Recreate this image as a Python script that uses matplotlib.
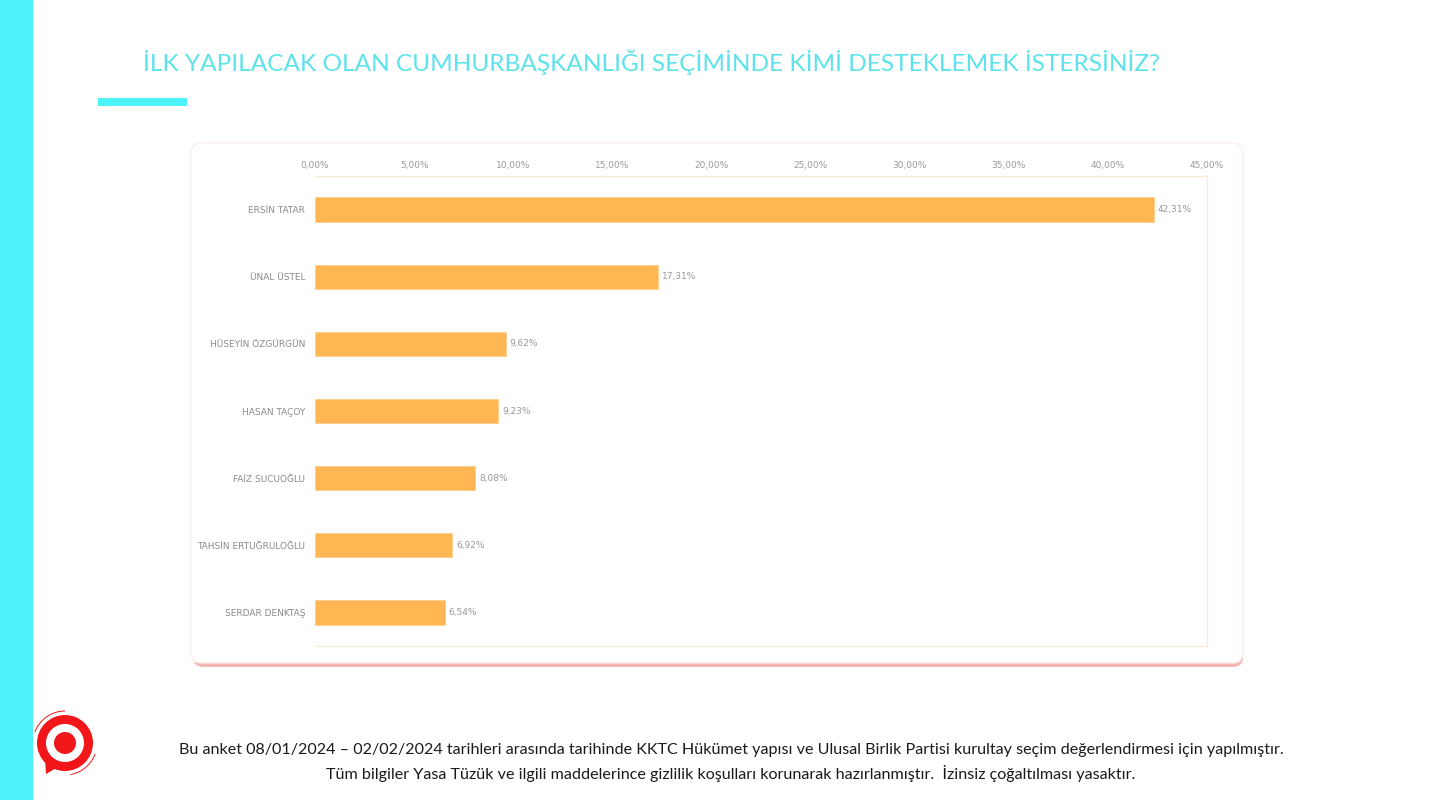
"""Cumhurbaşkanlığı anketi - yatay bar grafiği."""
import matplotlib
matplotlib.use("Agg")
import matplotlib.pyplot as plt
from matplotlib.patches import Rectangle, FancyBboxPatch, Circle, Arc, Polygon
from matplotlib.ticker import FuncFormatter

candidates = [
    "ERSİN TATAR",
    "ÜNAL ÜSTEL",
    "HÜSEYİN ÖZGÜRGÜN",
    "HASAN TAÇOY",
    "FAİZ SUCUOĞLU",
    "TAHSİN ERTUĞRULOĞLU",
    "SERDAR DENKTAŞ",
]
support = [42.31, 17.31, 9.62, 9.23, 8.08, 6.92, 6.54]
x_ticks = [0, 5, 10, 15, 20, 25, 30, 35, 40, 45]

title = "İLK YAPILACAK OLAN CUMHURBAŞKANLIĞI SEÇİMİNDE KİMİ DESTEKLEMEK İSTERSİNİZ?"
footer_1 = ("Bu anket 08/01/2024 – 02/02/2024 tarihleri arasında tarihinde KKTC Hükümet yapısı "
            "ve Ulusal Birlik Partisi kurultay seçim değerlendirmesi için yapılmıştır.")
footer_2 = ("Tüm bilgiler Yasa Tüzük ve ilgili maddelerince gizlilik koşulları korunarak "
            "hazırlanmıştır.  İzinsiz çoğaltılması yasaktır.")

W, H = 1432, 800
CYAN = "#4DF3FB"
TITLE_C = "#5DE3EA"
BAR_C = "#FFB653"


def px(x0, y0, x1, y1):
    """Pixel box (top-left origin) to figure fraction rect."""
    return [x0 / W, 1 - y1 / H, (x1 - x0) / W, (y1 - y0) / H]


fig = plt.figure(figsize=(W / 100, H / 100), dpi=100)
fig.patch.set_facecolor("white")

# background decoration layer
bg = fig.add_axes([0, 0, 1, 1])
bg.set_xlim(0, W)
bg.set_ylim(H, 0)
bg.axis("off")
bg.add_patch(Rectangle((0, 0), 33, H, color=CYAN, lw=0))
bg.add_patch(Rectangle((98, 98), 89, 8, color=CYAN, lw=0))

# card with soft pink shadow
bg.add_patch(FancyBboxPatch((193, 150), 1050, 517, boxstyle="round,pad=0,rounding_size=10",
                            fc="#F4A9A9", ec="none", alpha=0.85))
bg.add_patch(FancyBboxPatch((191, 143), 1052, 520, boxstyle="round,pad=0,rounding_size=10",
                            fc="white", ec="#FBEDEA", lw=0.8))

t = bg.text(143, 62, title, color=TITLE_C, fontsize=20, va="center", ha="left",
            family=["Lato", "DejaVu Sans"])
# fit the title to the width it takes in the reference
fig.canvas.draw()
w = t.get_window_extent().width
t.set_fontsize(20 * 1012 / w)

bg.text(731, 750, footer_1, ha="center", va="center", fontsize=11.6, color="#1a1a1a",
        family=["Lato", "DejaVu Sans"])
bg.text(731, 773, footer_2, ha="center", va="center", fontsize=11.6, color="#1a1a1a",
        family=["Lato", "DejaVu Sans"])

# logo
cx, cy = 65, 743
bg.add_patch(Polygon([[45, 758], [46, 774], [58, 767]], color="#F0161A", lw=0))
bg.add_patch(Circle((cx, cy), 28, color="#F0161A", lw=0))
bg.add_patch(Circle((cx, cy), 19, color="white", lw=0))
bg.add_patch(Circle((cx, cy), 11, color="#F0161A", lw=0))
bg.add_patch(Arc((cx, cy), 64, 64, theta1=200, theta2=270, color="#F0161A", lw=0.7))
bg.add_patch(Arc((cx, cy), 64, 64, theta1=20, theta2=80, color="#F0161A", lw=0.7))

# chart
ax = fig.add_axes(px(315, 176, 1207, 646))
ax.barh(candidates, support, height=0.36, color=BAR_C, edgecolor="#FFCF8A", lw=0.6)
ax.set_xlim(0, 45)
ax.set_ylim(len(candidates) - 0.5, -0.5)
ax.set_xticks(x_ticks)
ax.xaxis.set_major_formatter(FuncFormatter(lambda v, p: f"{v:.2f}%".replace(".", ",")))
ax.xaxis.tick_top()
ax.tick_params(axis="x", length=0, pad=4, labelsize=6.5, labelcolor="#999999")
ax.tick_params(axis="y", length=0, pad=7, labelsize=6.5, labelcolor="#8a8a8a")
for s in ["top", "right", "bottom"]:
    ax.spines[s].set_color("#F6EAD6")
    ax.spines[s].set_linewidth(0.9)
ax.spines["left"].set_visible(False)

for i, v in enumerate(support):
    ax.text(v + 0.2, i, f"{v:.2f}%".replace(".", ","), va="center", ha="left",
            fontsize=6.5, color="#999999")

fig.savefig("out.png", dpi=100)
